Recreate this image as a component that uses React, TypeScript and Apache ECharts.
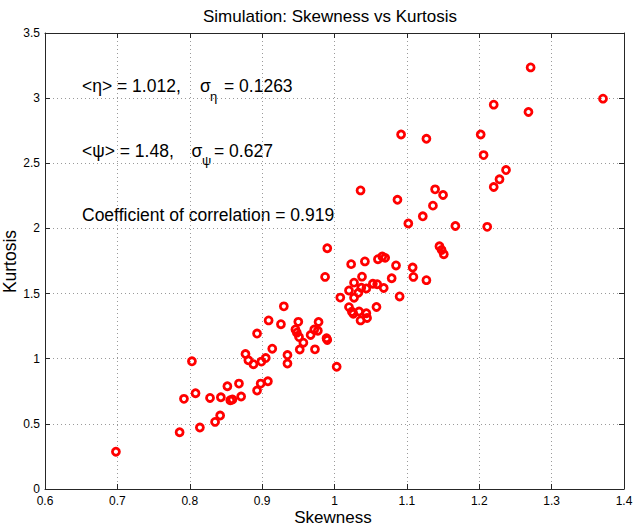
import React, { useEffect, useRef } from "react";
import * as echarts from "echarts";

const skewness = [
  0.698, 0.786, 0.814, 0.835, 0.842, 0.792, 0.808, 0.828, 0.843, 0.852,
  0.856, 0.859, 0.868, 0.871, 0.803, 0.877, 0.881, 0.888, 0.893, 0.898,
  0.908, 0.899, 0.905, 0.914, 0.893, 0.909, 0.930, 0.926, 0.935, 0.935,
  0.946, 0.950, 0.948, 0.951, 0.952, 0.957, 0.967, 0.972, 0.978, 0.977,
  0.973, 0.989, 0.990, 1.003, 0.987, 0.990, 1.008, 1.023, 1.042, 1.060,
  1.066, 1.070, 1.085, 1.108, 1.109, 1.127, 1.038, 1.079, 1.027, 1.020,
  1.037, 1.044, 1.033, 1.053, 1.059, 1.068, 1.027, 1.090, 1.020, 1.024,
  1.026, 1.034, 1.044, 1.036, 1.045, 1.058, 1.036, 1.087, 1.139, 1.150,
  1.136, 1.122, 1.102, 1.167, 1.211, 1.220, 1.228, 1.237, 1.145, 1.148,
  1.151, 1.271, 1.371, 1.220, 1.268, 1.092, 1.127, 1.202, 1.206,
];

const kurtosis = [
  0.286, 0.436, 0.472, 0.515, 0.564, 0.692, 0.735, 0.699, 0.704, 0.789,
  0.681, 0.687, 0.809, 0.710, 0.980, 1.036, 0.988, 0.958, 0.756, 0.809,
  0.827, 0.978, 1.005, 1.077, 1.193, 1.294, 1.402, 1.265, 1.028, 0.963,
  1.225, 1.283, 1.200, 1.166, 1.071, 1.123, 1.182, 1.224, 1.282, 1.215,
  1.072, 1.158, 1.144, 0.938, 1.628, 1.848, 1.469, 1.726, 1.747, 1.764,
  1.784, 1.774, 1.716, 1.700, 1.628, 1.603, 1.630, 1.618, 1.584, 1.524,
  1.545, 1.539, 1.506, 1.575, 1.572, 1.543, 1.468, 1.478, 1.396, 1.360,
  1.345, 1.362, 1.349, 1.294, 1.313, 1.397, 2.292, 2.220, 2.300, 2.257,
  2.175, 2.093, 2.038, 2.019, 2.012, 2.318, 2.377, 2.448, 1.863, 1.835,
  1.802, 3.236, 2.996, 2.950, 2.894, 2.721, 2.688, 2.721, 2.563,
];

const xTicks = { min: 0.6, max: 1.4, step: 0.1 };
const yTicks = { min: 0, max: 3.5, step: 0.5 };

const titleText = "Simulation: Skewness vs Kurtosis";
const xName = "Skewness";
const yName = "Kurtosis";
const statsEta = { mean: "<η> = 1.012,", sigma: "σ", sub: "η", rest: "= 0.1263" };
const statsPsi = { mean: "<ψ> = 1.48,", sigma: "σ", sub: "ψ", rest: "= 0.627" };
const corrText = "Coefficient of correlation = 0.919";

const FONT = "Liberation Sans, Arial, Helvetica, sans-serif";
const AXIS_COLOR = "#262626";

function txt(text: string, x: number, y: number, size: number, extra: any = {}) {
  return {
    type: "text",
    x,
    y,
    silent: true,
    ...extra,
    style: {
      text,
      fill: "#000",
      font: `${size}px ${FONT}`,
      fontSize: size,
      fontFamily: FONT,
      align: extra.align || "left",
      textAlign: extra.align || "left",
      verticalAlign: "middle",
      textVerticalAlign: "middle",
    },
  };
}

export default function App() {
  const ref = useRef<HTMLDivElement>(null);
  useEffect(() => {
    if (!ref.current) return;
    const chart = echarts.init(ref.current, undefined, { renderer: "svg" });
    const data = skewness.map((s, i) => [s, kurtosis[i]]);
    const baseX = {
      type: "value",
      min: xTicks.min,
      max: xTicks.max,
      interval: xTicks.step,
      axisLine: { show: true, onZero: false, lineStyle: { color: AXIS_COLOR, width: 1 } },
      axisTick: { show: true, inside: true, length: 5, lineStyle: { color: AXIS_COLOR } },
    };
    const baseY = {
      type: "value",
      min: yTicks.min,
      max: yTicks.max,
      interval: yTicks.step,
      axisLine: { show: true, onZero: false, lineStyle: { color: AXIS_COLOR, width: 1 } },
      axisTick: { show: true, inside: true, length: 5, lineStyle: { color: AXIS_COLOR } },
    };
    const gridLine = { show: true, lineStyle: { color: "#9a9a9a", width: 1, type: [1, 3] } };
    chart.setOption({
      animation: false,
      backgroundColor: "#fff",
      grid: { left: 45, top: 33, right: 14, bottom: 40, containLabel: false },
      xAxis: [
        {
          ...baseX,
          position: "bottom",
          splitLine: gridLine,
          axisLabel: {
            show: true,
            margin: 6,
            color: "#000",
            fontSize: 12,
            fontFamily: FONT,
            formatter: (v: number) => String(Math.round(v * 10) / 10),
          },
        },
        {
          ...baseX,
          position: "top",
          splitLine: { show: false },
          axisLabel: { show: false },
        },
      ],
      yAxis: [
        {
          ...baseY,
          position: "left",
          splitLine: gridLine,
          axisLabel: {
            show: true,
            margin: 5,
            color: "#000",
            fontSize: 12,
            fontFamily: FONT,
            formatter: (v: number) => String(Math.round(v * 10) / 10),
          },
        },
        {
          ...baseY,
          position: "right",
          splitLine: { show: false },
          axisLabel: { show: false },
        },
      ],
      series: [
        {
          type: "scatter",
          xAxisIndex: 0,
          yAxisIndex: 0,
          data,
          symbol: "circle",
          symbolSize: 7,
          itemStyle: { color: "rgba(255,255,255,0)", borderColor: "#ff0000", borderWidth: 2.8, opacity: 1 },
          emphasis: { disabled: true },
        },
      ],
      graphic: [
        txt(titleText, 330, 16.5, 17, { align: "center" }),
        txt(xName, 333, 517, 17, { align: "center" }),
        { ...txt(yName, 10, 261.5, 17.5, { align: "center" }), rotation: Math.PI / 2 },
        txt(statsEta.mean, 82, 86, 17.5),
        txt(statsEta.sigma, 200, 86, 17.5),
        txt(statsEta.sub, 210, 96, 13),
        txt(statsEta.rest, 224, 86, 17.5),
        txt(statsPsi.mean, 82, 150.5, 17.5),
        txt(statsPsi.sigma, 191.5, 150.5, 17.5),
        txt(statsPsi.sub, 202, 160, 13),
        txt(statsPsi.rest, 214, 150.5, 17.5),
        txt(corrText, 82, 215, 17.5),
      ],
    });
    return () => chart.dispose();
  }, []);
  return (
    <div
      ref={ref}
      style={{ position: "fixed", left: 0, top: 0, width: 638, height: 529, background: "#fff" }}
    />
  );
}
